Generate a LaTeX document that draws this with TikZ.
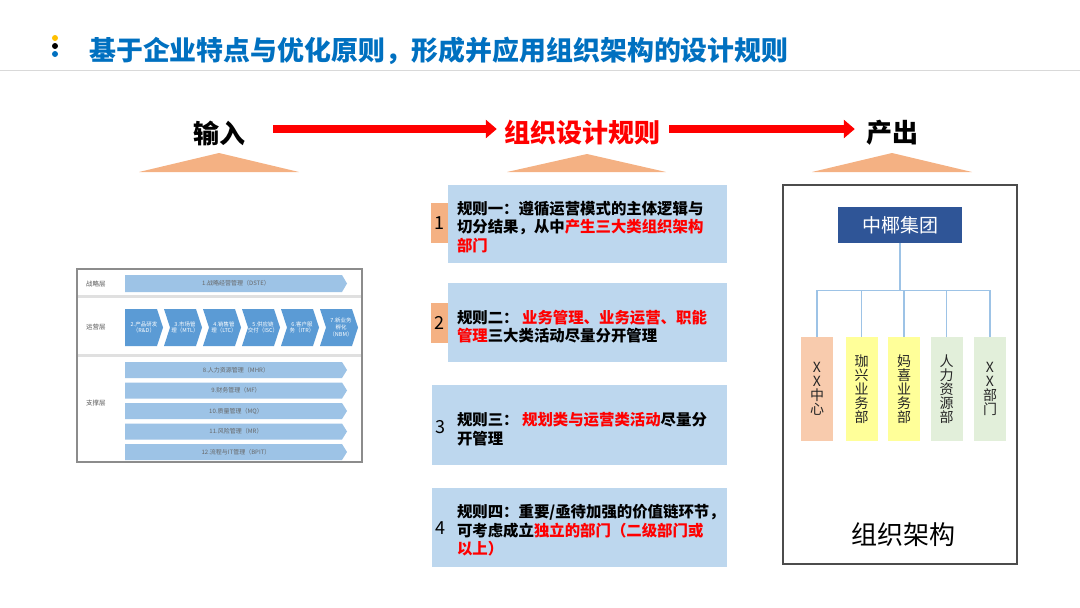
\documentclass[tikz,border=0pt]{standalone}
\usepackage{fontspec}
\setmainfont{Noto Sans CJK SC}
\usetikzlibrary{arrows.meta,calc}
\definecolor{titleblue}{HTML}{0070C0}
\definecolor{dotyellow}{HTML}{FFC000}
\definecolor{boxblue}{HTML}{BDD7EE}
\definecolor{peach}{HTML}{F4B183}
\definecolor{childpeach}{HTML}{F8CBAD}
\definecolor{childyellow}{HTML}{FFFF99}
\definecolor{childgreen}{HTML}{E2EFDA}
\definecolor{orgblue}{HTML}{2F5597}
\definecolor{orgline}{HTML}{9DC3E6}
\definecolor{barblue}{HTML}{9DC3E6}
\definecolor{chevblue}{HTML}{5B9BD5}
\definecolor{redc}{HTML}{FF0000}
\newcommand\redtxt[1]{\textcolor{redc}{#1}}
\tikzset{
  hdr/.style={font=\bfseries\fontsize{26}{28}\selectfont, inner sep=0pt},
  redarrow/.style={draw=redc, line width=7.5pt, -{Triangle[length=11pt,width=18pt]}},
  tri/.style={fill=peach},
  rulebox/.style={fill=boxblue, draw=none, inner sep=0pt},
  ruletag/.style={fill=peach, draw=none, inner sep=0pt, minimum width=17pt, minimum height=40pt},
  rulenum/.style={font=\fontsize{18}{18}\selectfont, inner sep=0pt},
  ruletext/.style={font=\bfseries\fontsize{15.4}{18.5}\selectfont, align=left, anchor=west, inner sep=0pt},
  bartext/.style={font=\fontsize{6}{7}\selectfont, text=black!60, inner sep=0pt},
  chevtext/.style={font=\fontsize{5.5}{6.8}\selectfont, text=white, align=center, inner sep=0pt},
  laytext/.style={font=\fontsize{6.5}{7}\selectfont, text=black!65, anchor=west, inner sep=0pt},
  child/.style={draw=none, minimum width=32pt, minimum height=104pt, inner sep=0pt,
    font=\fontsize{14}{14}\selectfont, align=center, text=black!85},
  orgconn/.style={draw=orgline, line width=1.3pt},
}
\begin{document}
\begin{tikzpicture}[x=1pt,y=-1pt]
\useasboundingbox (0,0) rectangle (1080,608);
% ---- title ----
\fill[dotyellow] (55,38) circle (3);
\fill[black] (55,46) circle (3);
\fill[titleblue] (55,54) circle (3);
\node[anchor=west, inner sep=0pt, text=titleblue, font=\bfseries\fontsize{26.9}{28}\selectfont] (title) at (89,51) {基于企业特点与优化原则，形成并应用组织架构的设计规则};
\draw[black!15, line width=1pt] (0,70) -- (1080,70);
% ---- headers ----
\node[hdr] (in) at (219,133) {输入};
\node[hdr, text=redc] (rules) at (582,133) {组织设计规则};
\node[hdr] (out) at (892,133) {产出};
\draw[redarrow] ([yshift=4pt,xshift=28pt]in.east) -- ([yshift=4pt,xshift=-7pt]rules.west);
\draw[redarrow] ([yshift=4pt,xshift=9pt]rules.east) -- ([yshift=4pt,xshift=-11pt]out.west);
\fill[tri] (139,172) -- (219,153) -- (299,172) -- cycle;
\fill[tri] (507,172) -- (587,154) -- (666,172) -- cycle;
\fill[tri] (812,172) -- (892,153) -- (972,172) -- cycle;
% ---- left picture ----
\fill[white] (77,269) rectangle (362,462);
\draw[black!12, line width=3pt] (78,296) -- (361,296);
\draw[black!12, line width=3pt] (78,355) -- (361,355);
\draw[black!45, line width=1.3pt] (77,269) rectangle (362,462);
\node[laytext] (l1) at (86,284) {战略层};
\node[laytext] (l2) at (86,327.5) {运营层};
\node[laytext] (l3) at (86,403) {支撑层};
\fill[barblue] (125,275) -- (342,275) -- (347,283.5) -- (342,292) -- (125,292) -- cycle;
\node[bartext] (b1) at (236,283.5) {1.战略经营管理（DSTE）};
\foreach \t [count=\k] in {{2.产品研发\\（R\&D）},{3.市场管\\理（MTL）},{4.销售管\\理（LTC）},{5.供应链\\交付（ISC）},{6.客户服\\务（ITR）},{7.新业务\\孵化\\（NBM）}}{
  \pgfmathsetmacro\xa{125+(\k-1)*39}
  \pgfmathsetmacro\nd{\k==1?0:6}
  \fill[chevblue] (\xa,309) -- (\xa+32,309) -- (\xa+38,327.5) -- (\xa+32,346) -- (\xa,346) -- (\xa+\nd,327.5) -- cycle;
  \node[chevtext] (ch\k) at (\xa+19+\nd/3,327.5) {\t};
}
\foreach \y/\t [count=\k] in {370/8.人力资源管理（MHR）,390.5/9.财务管理（MF）,411/10.质量管理（MQ）,431.5/11.风险管理（MR）,452/12.流程与IT管理（BPIT）}{
  \fill[barblue] (125,\y-8) -- (342,\y-8) -- (347,\y) -- (342,\y+8) -- (125,\y+8) -- cycle;
  \node[bartext] (s\k) at (236,\y) {\t};
}
% ---- rule boxes ----
\node[rulebox, minimum width=279pt, minimum height=78pt] (r1) at (587.5,224) {};
\node[ruletag] (t1) at (439.5,223) {};
\node[rulenum] (n1) at (439.5,223) {1};
\node[ruletext] (x1) at ([xshift=9pt,yshift=-3pt]r1.west) {规则一：遵循运营模式的主体逻辑与\\切分结果，从中\redtxt{产生三大类组织架构}\\\redtxt{部门}};
\node[rulebox, minimum width=279pt, minimum height=79pt] (r2) at (587.5,322.5) {};
\node[ruletag] (t2) at (439.5,322.5) {};
\node[rulenum] (n2) at (439.5,322.5) {2};
\node[ruletext] (x2) at ([xshift=9pt,yshift=-4pt]r2.west) {规则二：\ \redtxt{业务管理、业务运营、职能}\\\redtxt{管理}三大类活动尽量分开管理};
\node[rulebox, minimum width=295pt, minimum height=80pt] (r3) at (579.5,425) {};
\node[rulenum] (n3) at (440,427) {3};
\node[ruletext] (x3) at ([xshift=25pt,yshift=-4pt]r3.west) {规则三：\ \redtxt{规划类与运营类活动}尽量分\\开管理};
\node[rulebox, minimum width=295pt, minimum height=79pt] (r4) at (579.5,527.5) {};
\node[rulenum] (n4) at (440,528) {4};
\node[ruletext] (x4) at ([xshift=25pt,yshift=-3pt]r4.west) {规则四：重要/亟待加强的价值链环节，\\可考虑成立\redtxt{独立的部门（二级部门或}\\\redtxt{以上）}};
% ---- org chart ----
\draw[black!70, line width=1.4pt] (783,185) rectangle (1017,564);
\node[fill=orgblue, text=white, minimum width=124pt, minimum height=36pt, inner sep=0pt, font=\fontsize{19}{20}\selectfont] (grp) at (900,225) {中椰集团};
\node[child, fill=childpeach] (c1) at (817,389) {X\\X\\中\\心};
\node[child, fill=childyellow] (c2) at (861.5,389) {珈\\兴\\业\\务\\部};
\node[child, fill=childyellow] (c3) at (904,389) {妈\\喜\\业\\务\\部};
\node[child, fill=childgreen] (c4) at (946.5,389) {人\\力\\资\\源\\部};
\node[child, fill=childgreen] (c5) at (990,389) {X\\X\\部\\门};
\foreach \c in {c1,c2,c3,c4,c5}{
  \draw[orgconn] (grp.south) -- ++(0,47) -| (\c.north);
}
\node[inner sep=0pt, font=\fontsize{26}{28}\selectfont] (orgt) at (903,535) {组织架构};
\end{tikzpicture}
\end{document}
